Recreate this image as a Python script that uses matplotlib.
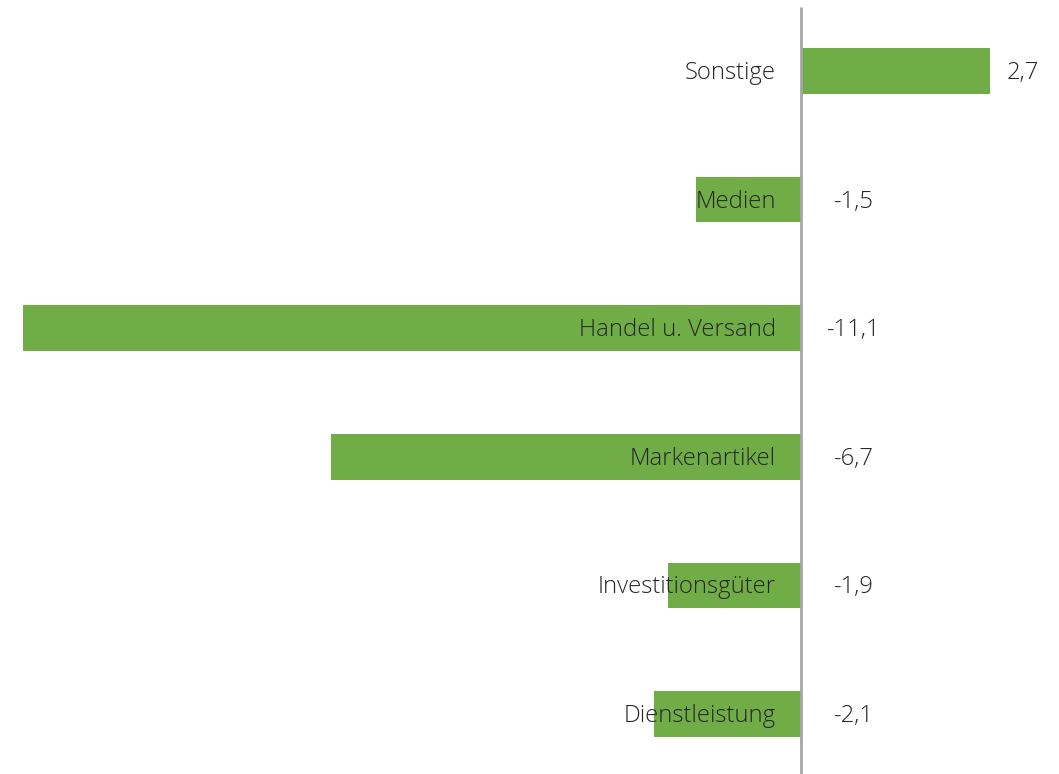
import matplotlib.pyplot as plt

categories = ["Sonstige", "Medien", "Handel u. Versand", "Markenartikel",
              "Investitionsgüter", "Dienstleistung"]
values = [2.7, -1.5, -11.1, -6.7, -1.9, -2.1]
value_labels = ["2,7", "-1,5", "-11,1", "-6,7", "-1,9", "-2,1"]

GREEN = "#70AD47"
TEXT = "#262626"

plt.rcParams['font.family'] = ['Open Sans', 'DejaVu Sans']

fig = plt.figure(figsize=(10.59, 7.74), dpi=100)
ax = fig.add_axes([0, 0, 1, 1])

px = 1 / 70.09  # data units per pixel
py = 1 / 128.6
ax.set_xlim(-801 * px, (1059 - 801) * px)
ax.set_ylim((774 - 71) * py, -71 * py)

ypos = list(range(len(categories)))
ax.barh(ypos, values, height=0.355, color=GREEN, zorder=1)
ax.plot([0, 0], [-0.5, 6], color="#A6A6A6", lw=2, zorder=3, solid_capstyle='butt')

fs = 17.2
for y, v, cat, lab in zip(ypos, values, categories, value_labels):
    ty = y + 2 * py
    ax.text(-25 * px, ty, cat, ha='right', va='center', fontsize=fs,
            color=TEXT, fontweight='light', zorder=4)
    if v >= 0:
        ax.text(v + 16 * px, ty, lab, ha='left', va='center', fontsize=fs,
                color=TEXT, fontweight='light', zorder=4)
    else:
        ax.text(53 * px, ty, lab, ha='center', va='center', fontsize=fs,
                color=TEXT, fontweight='light', zorder=4)

ax.axis('off')
fig.savefig('out.png', dpi=100)
